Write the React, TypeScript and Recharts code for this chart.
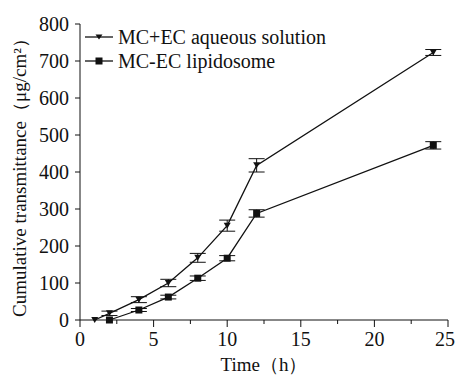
import { LineChart, Line, XAxis, YAxis, ErrorBar } from "recharts";

const times = [1, 2, 4, 6, 8, 10, 12, 24];
const aqueous = [0, 18, 55, 100, 168, 255, 418, 723];
const aqueousErr = [0, 6, 8, 10, 12, 15, 18, 8];
const lipidosome = [null, 0, 27, 62, 113, 167, 288, 472];
const lipidosomeErr = [0, 0, 4, 5, 6, 7, 10, 10];

const xTicks = [0, 2.5, 5, 7.5, 10, 12.5, 15, 17.5, 20, 22.5, 25];
const yTicks = [0, 100, 200, 300, 400, 500, 600, 700, 800];

const seriesNames = ["MC+EC aqueous solution", "MC-EC lipidosome"];

const data = times.map((t, i) => ({
  t,
  a: aqueous[i],
  aErr: aqueousErr[i],
  b: lipidosome[i],
  bErr: lipidosomeErr[i],
}));

const FONT = "'Liberation Serif', 'Times New Roman', serif";

const TriDot = (props: any) => {
  const { cx, cy } = props;
  if (cx == null || cy == null) return null;
  return <path d={`M${cx - 3.5},${cy - 3} L${cx + 3.5},${cy - 3} L${cx},${cy + 3} Z`} fill="#111" />;
};

const SqDot = (props: any) => {
  const { cx, cy } = props;
  if (cx == null || cy == null) return null;
  return <rect x={cx - 3.5} y={cy - 3.5} width={7} height={7} fill="#111" />;
};

const XTick = (props: any) => {
  const { x, y, payload } = props;
  const major = payload.value % 5 === 0;
  const last = payload.value === 25;
  return (
    <g>
      <line x1={x} y1={y} x2={x} y2={y + (major ? 7 : 4)} stroke="#111" />
      {major && (
        <text
          x={last ? x + 7 : x}
          y={y + 26}
          textAnchor={last ? "end" : "middle"}
          style={{ fontFamily: FONT, fontSize: 20 }}
          fill="#111"
        >
          {payload.value}
        </text>
      )}
    </g>
  );
};

const YTick = (props: any) => {
  const { x, y, payload } = props;
  return (
    <text x={x} y={y + 7} textAnchor="end" style={{ fontFamily: FONT, fontSize: 20 }} fill="#111">
      {payload.value}
    </text>
  );
};

// y-axis title, drawn rotated at the far left
const YTitle = () => (
  <text
    x={0}
    y={0}
    transform="translate(26,173) rotate(-90)"
    textAnchor="middle"
    style={{ fontFamily: FONT, fontSize: 18 }}
    fill="#111"
    textLength={288}
    lengthAdjust="spacingAndGlyphs"
  >
    Cumulative transmittance（μg/cm²）
  </text>
);

const XTitle = () => (
  <text x={264} y={371} textAnchor="middle" style={{ fontFamily: FONT, fontSize: 19 }} fill="#111">
    Time（h）
  </text>
);

const LegendBox = () => (
  <div
    style={{
      position: "absolute",
      left: 85,
      top: 25,
      fontFamily: FONT,
      fontSize: 20,
      color: "#111",
      lineHeight: "24px",
    }}
  >
    {seriesNames.map((n, i) => (
      <div key={n} style={{ display: "flex", alignItems: "center", whiteSpace: "nowrap" }}>
        <svg width={30} height={12}>
          <line x1={0} y1={6} x2={28} y2={6} stroke="#111" strokeWidth={1.3} />
          {i === 0 ? (
            <path d="M10.5,3.5 L17.5,3.5 L14,8.5 Z" fill="#111" />
          ) : (
            <rect x={10.5} y={2.5} width={7} height={7} fill="#111" />
          )}
        </svg>
        <span style={{ marginLeft: 3 }}>{n}</span>
      </div>
    ))}
  </div>
);

export default function App() {
  return (
    <div style={{ position: "absolute", left: 0, top: 0, width: 456, height: 377, background: "#fff" }}>
      <LineChart
        width={456}
        height={377}
        data={data}
        margin={{ top: 24, right: 8, left: 0, bottom: 0 }}
      >
        <XAxis
          dataKey="t"
          type="number"
          domain={[0, 25]}
          ticks={xTicks}
          interval={0}
          tickSize={0}
          tickMargin={0}
          tickLine={false}
          tick={<XTick />}
          axisLine={{ stroke: "#111" }}
          height={57}
        />
        <YAxis
          type="number"
          domain={[0, 800]}
          ticks={yTicks}
          interval={0}
          width={80}
          tickSize={5}
          tickMargin={6}
          tickLine={{ stroke: "#111" }}
          axisLine={{ stroke: "#111" }}
          tick={<YTick />}
        />
        <Line
          dataKey="a"
          name={seriesNames[0]}
          stroke="#111"
          strokeWidth={1.3}
          dot={<TriDot />}
          isAnimationActive={false}
        >
          <ErrorBar dataKey="aErr" width={8} stroke="#111" strokeWidth={1} direction="y" />
        </Line>
        <Line
          dataKey="b"
          name={seriesNames[1]}
          stroke="#111"
          strokeWidth={1.3}
          dot={<SqDot />}
          isAnimationActive={false}
          connectNulls
        >
          <ErrorBar dataKey="bErr" width={8} stroke="#111" strokeWidth={1} direction="y" />
        </Line>
        <YTitle />
        <XTitle />
      </LineChart>
      <LegendBox />
    </div>
  );
}
